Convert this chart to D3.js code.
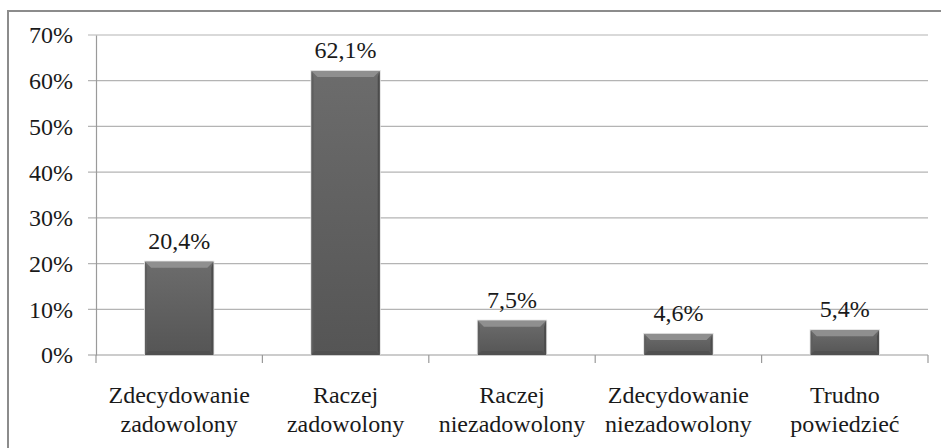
<!DOCTYPE html>
<html>
<head>
<meta charset="utf-8">
<script src="https://cdn.jsdelivr.net/npm/d3@7"></script>
<style>
  body { margin: 0; background: #fff; }
  svg text { font-family: 'Liberation Serif', 'Noto Serif', 'FreeSerif', 'Times New Roman', Times, 'DejaVu Serif', serif; fill: #1a1a1a; }
</style>
</head>
<body>
<div id="vis"></div>
<script>
// frame constants
const FRAME_WIDTH = 941;
const FRAME_HEIGHT = 448;
const MARGINS = {left: 96, right: 13, top: 35, bottom: 93};
const FONT = "'Liberation Serif', 'Noto Serif', 'FreeSerif', 'Times New Roman', Times, 'DejaVu Serif', serif";

// data
const categories = [
  ["Zdecydowanie", "zadowolony"],
  ["Raczej", "zadowolony"],
  ["Raczej", "niezadowolony"],
  ["Zdecydowanie", "niezadowolony"],
  ["Trudno", "powiedzieć"]
];
const values = [20.4, 62.1, 7.5, 4.6, 5.4];
const valueLabels = ["20,4%", "62,1%", "7,5%", "4,6%", "5,4%"];
const yTicks = [0, 10, 20, 30, 40, 50, 60, 70];

const VIS_WIDTH = FRAME_WIDTH - MARGINS.left - MARGINS.right;
const VIS_HEIGHT = FRAME_HEIGHT - MARGINS.top - MARGINS.bottom;

const svg = d3.select("#vis")
  .append("svg")
    .attr("width", FRAME_WIDTH)
    .attr("height", FRAME_HEIGHT)
    .style("font-family", FONT);

// outer border (runs off the right / bottom edge like the original)
svg.append("rect")
  .attr("x", 8).attr("y", 11)
  .attr("width", FRAME_WIDTH + 10).attr("height", FRAME_HEIGHT + 10)
  .attr("fill", "none")
  .attr("stroke", "#8c8c8c")
  .attr("stroke-width", 2);

const X_SCALE = d3.scaleBand()
  .domain(d3.range(values.length))
  .range([MARGINS.left, MARGINS.left + VIS_WIDTH])
  .paddingInner(0.59)
  .paddingOuter(0.295);

const Y_SCALE = d3.scaleLinear()
  .domain([0, 70])
  .range([MARGINS.top + VIS_HEIGHT, MARGINS.top]);

// gridlines
svg.append("g")
  .selectAll("line")
  .data(yTicks)
  .enter()
  .append("line")
    .attr("x1", MARGINS.left - 8)
    .attr("x2", MARGINS.left + VIS_WIDTH)
    .attr("y1", d => Y_SCALE(d))
    .attr("y2", d => Y_SCALE(d))
    .attr("stroke", (d) => d === 0 ? "#9a9a9a" : "#b4b4b4")
    .attr("stroke-width", 1.2);

// y axis
const yAxis = svg.append("g")
  .attr("transform", "translate(" + MARGINS.left + ",0)")
  .call(d3.axisLeft(Y_SCALE).tickValues(yTicks).tickSize(0).tickPadding(23)
    .tickFormat(d => d + "%"));
yAxis.attr("font-family", null);
yAxis.select(".domain").attr("stroke", "#9a9a9a").attr("stroke-width", 1.2);
yAxis.selectAll("text")
  .attr("font-size", "24px")
  .style("font-family", FONT)
  .attr("fill", "#1a1a1a")
  .attr("dy", "0.33em");

// category boundary ticks on the x axis
const step = X_SCALE.step();
svg.append("g")
  .selectAll("line")
  .data(d3.range(values.length + 1))
  .enter()
  .append("line")
    .attr("x1", d => MARGINS.left + d * step)
    .attr("x2", d => MARGINS.left + d * step)
    .attr("y1", Y_SCALE(0))
    .attr("y2", Y_SCALE(0) + 8)
    .attr("stroke", "#9a9a9a")
    .attr("stroke-width", 1.2);

// bar gradient
const defs = svg.append("defs");
const grad = defs.append("linearGradient")
  .attr("id", "barFill").attr("x1", 0).attr("x2", 0).attr("y1", 0).attr("y2", 1);
grad.append("stop").attr("offset", "0%").attr("stop-color", "#6c6c6c");
grad.append("stop").attr("offset", "100%").attr("stop-color", "#555555");

const bev = 6;
const bars = svg.selectAll(".bar")
  .data(values)
  .enter()
  .append("g")
    .attr("class", "bar");

// soft shadow
bars.append("rect")
  .attr("x", (d, i) => X_SCALE(i) - 1)
  .attr("y", d => Y_SCALE(d) - 1)
  .attr("width", X_SCALE.bandwidth() + 2)
  .attr("height", d => Y_SCALE(0) - Y_SCALE(d) + 1)
  .attr("fill", "#dcdcdc");

bars.append("rect")
  .attr("x", (d, i) => X_SCALE(i))
  .attr("y", d => Y_SCALE(d))
  .attr("width", X_SCALE.bandwidth())
  .attr("height", d => Y_SCALE(0) - Y_SCALE(d))
  .attr("fill", "url(#barFill)");

// bevel facets
function facet(d, i, side) {
  const x0 = X_SCALE(i), x1 = x0 + X_SCALE.bandwidth();
  const y0 = Y_SCALE(d), y1 = Y_SCALE(0);
  const b = Math.min(bev, (y1 - y0) / 2);
  if (side === "top") return [[x0, y0], [x1, y0], [x1 - b, y0 + b], [x0 + b, y0 + b]];
  if (side === "bottom") return [[x0, y1], [x1, y1], [x1 - 4, y1 - 4], [x0 + 4, y1 - 4]];
  if (side === "left") return [[x0, y0], [x0 + 2, y0 + b], [x0 + 2, y1 - 4], [x0, y1]];
  return [[x1, y0], [x1 - 2, y0 + b], [x1 - 2, y1 - 4], [x1, y1]];
}
const facetColors = {top: "#8f8f8f", bottom: "#505050", left: "#5e5e5e", right: "#4c4c4c"};
["top", "bottom", "left", "right"].forEach(side => {
  bars.append("polygon")
    .attr("points", (d, i) => facet(d, i, side).map(p => p.join(",")).join(" "))
    .attr("fill", facetColors[side]);
});

// value labels
svg.selectAll(".vlabel")
  .data(values)
  .enter()
  .append("text")
    .attr("class", "vlabel")
    .attr("x", (d, i) => X_SCALE(i) + X_SCALE.bandwidth() / 2)
    .attr("y", d => Y_SCALE(d) - 13)
    .attr("text-anchor", "middle")
    .attr("font-size", "24px")
    .text((d, i) => valueLabels[i]);

// category labels
const cat = svg.selectAll(".clabel")
  .data(categories)
  .enter()
  .append("text")
    .attr("class", "clabel")
    .attr("text-anchor", "middle")
    .attr("font-size", "24px");
cat.each(function(d, i) {
  const cx = X_SCALE(i) + X_SCALE.bandwidth() / 2;
  d3.select(this).selectAll("tspan")
    .data(d)
    .enter()
    .append("tspan")
      .attr("x", cx)
      .attr("y", (t, j) => 403 + j * 29)
      .text(t => t);
});
</script>
</body>
</html>
